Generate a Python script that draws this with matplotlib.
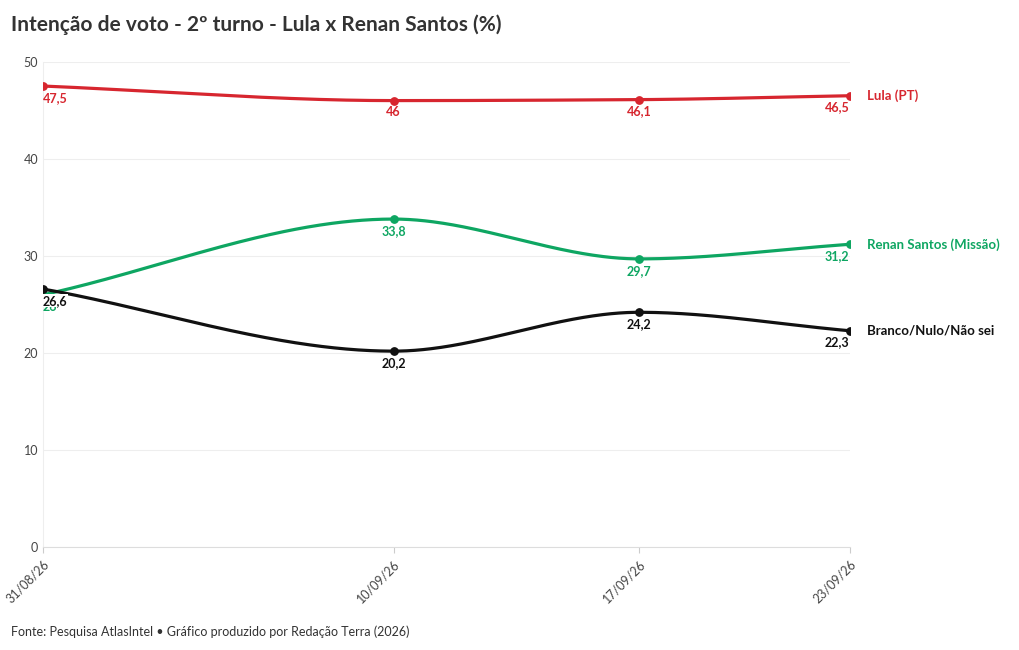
import numpy as np
import matplotlib
matplotlib.use("Agg")
import matplotlib.pyplot as plt
import matplotlib.dates as mdates
from datetime import date

plt.rcParams['font.family'] = ['Lato', 'DejaVu Sans']

dates = ["2026-08-31", "2026-09-10", "2026-09-17", "2026-09-23"]
tick_labels = ["31/08/26", "10/09/26", "17/09/26", "23/09/26"]
lula = [47.5, 46, 46.1, 46.5]
renan = [26, 33.8, 29.7, 31.2]
branco = [26.6, 20.2, 24.2, 22.3]
names = ["Lula (PT)", "Renan Santos (Missão)", "Branco/Nulo/Não sei"]
colors = ["#d7262f", "#0ea662", "#111111"]

def pchip(x, y, xs):
    x = np.asarray(x, float); y = np.asarray(y, float)
    h = np.diff(x); d = np.diff(y) / h
    n = len(x); m = np.zeros(n)
    for k in range(1, n - 1):
        if d[k-1] * d[k] > 0:
            w1 = 2*h[k] + h[k-1]; w2 = h[k] + 2*h[k-1]
            m[k] = (w1 + w2) / (w1 / d[k-1] + w2 / d[k])
    m[0] = d[0]; m[-1] = d[-1]
    out = np.empty_like(xs)
    for i, xv in enumerate(xs):
        k = min(np.searchsorted(x, xv, side='right') - 1, n - 2)
        t = (xv - x[k]) / h[k]
        h00 = 2*t**3 - 3*t**2 + 1; h10 = t**3 - 2*t**2 + t
        h01 = -2*t**3 + 3*t**2; h11 = t**3 - t**2
        out[i] = h00*y[k] + h10*h[k]*m[k] + h01*y[k+1] + h11*h[k]*m[k+1]
    return out

dts = [date.fromisoformat(d) for d in dates]
xn = np.array(mdates.date2num(dts))
xs = np.linspace(xn[0], xn[-1], 400)

fig = plt.figure(figsize=(10.2, 6.5), dpi=100)
ax = fig.add_axes([0.042, 0.158, 0.791, 0.747])

zs = [6, 5, 7]
for vals, name, c, z in zip([lula, renan, branco], names, colors, zs):
    ax.plot(xs, pchip(xn, vals, xs), color=c, lw=2.3, zorder=3)
    ax.scatter(xn, vals, color=c, s=28, zorder=4)
    for i, (xv, v) in enumerate(zip(xn, vals)):
        ha = 'left' if i == 0 else ('right' if i == len(vals) - 1 else 'center')
        bb = dict(fc='white', ec='none', pad=0.3) if (name.startswith("Branco") and i == 0) else None
        ax.text(xv, v - 0.6, str(v).replace('.', ','), color=c,
                fontsize=9, fontweight='bold', va='top', ha=ha, zorder=z, bbox=bb)
    ax.text(xn[-1] + 0.5, vals[-1], name, color=c, fontsize=9.5, fontweight='bold',
            va='center', ha='left', clip_on=False)

ax.set_xlim(xn[0], xn[-1])
ax.set_ylim(0, 50)
ax.set_yticks([0, 10, 20, 30, 40, 50])
ax.set_xticks(xn)
ax.set_xticklabels(tick_labels, rotation=45, ha='right', rotation_mode='anchor', fontsize=9, color='#444')
ax.tick_params(axis='y', labelsize=9, colors='#444', length=0)
ax.tick_params(axis='x', length=4, color='#ccc')
ax.grid(axis='y', color='#eeeeee', lw=0.8)
for s in ax.spines.values():
    s.set_visible(False)
ax.spines['left'].set_visible(True); ax.spines['left'].set_color('#eeeeee')
ax.spines['bottom'].set_visible(True); ax.spines['bottom'].set_color('#dddddd')

fig.text(0.011, 0.962, "Intenção de voto - 2º turno - Lula x Renan Santos (%)", fontsize=15,
         fontweight='bold', color='#333', va='center')
fig.text(0.011, 0.028, "Fonte: Pesquisa AtlasIntel • Gráfico produzido por Redação Terra (2026)",
         fontsize=9, color='#333', va='center')
fig.savefig("out.png", dpi=100)
